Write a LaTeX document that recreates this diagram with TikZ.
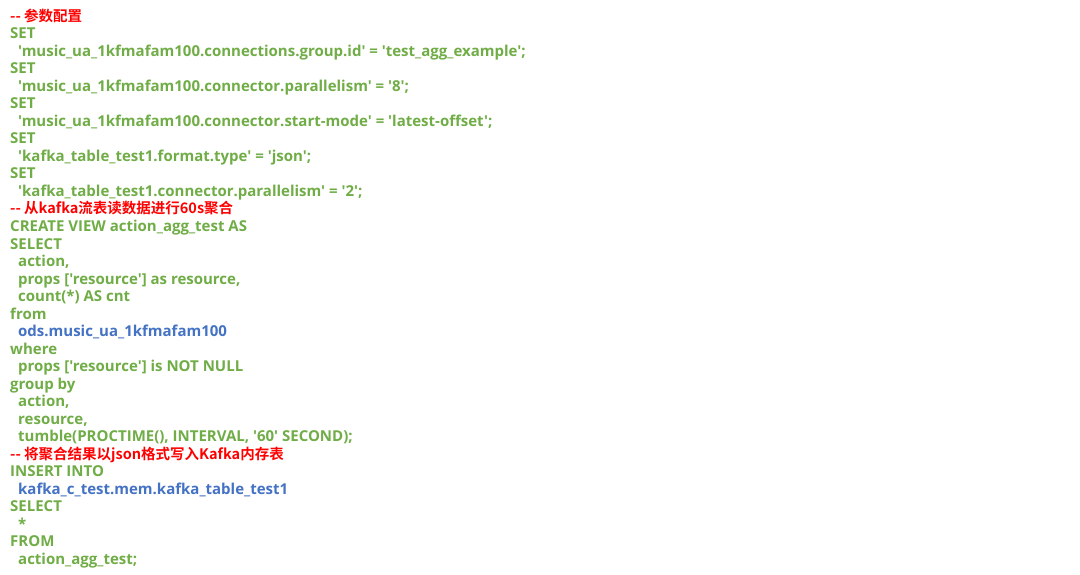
\documentclass[tikz,border=0pt]{standalone}
\usepackage{fontspec}
\usepackage{xcolor}
\newfontfamily\codefont{Open Sans}[BoldFont={Open Sans Bold}]
\newfontfamily\cjkfont{Noto Sans CJK SC}[BoldFont={Noto Sans CJK SC Bold}]
\definecolor{sqlgreen}{HTML}{70AD47}
\definecolor{sqlred}{HTML}{FF0000}
\definecolor{sqlblue}{HTML}{4472C4}
\tikzset{
  every code line/.style={inner sep=0pt,anchor=base west,font=\codefont\bfseries\fontsize{15}{17}\selectfont},
  kw/.style={every code line,text=sqlgreen},
  cmt/.style={every code line,text=sqlred,font=\cjkfont\bfseries\fontsize{14.5}{17}\selectfont},
  tbl/.style={every code line,text=sqlblue},
}

\begin{document}
\begin{tikzpicture}[x=1pt,y=1pt]
\useasboundingbox[fill=white] (0,0) rectangle (1080,-575);
\foreach[count=\k] \ind/\sty/\txt in {
  0/cmt/{-- 参数配置},
  0/kw/{SET},
  1/kw/{'music\_ua\_1kfmafam100.connections.group.id' = 'test\_agg\_example';},
  0/kw/{SET},
  1/kw/{'music\_ua\_1kfmafam100.connector.parallelism' = '8';},
  0/kw/{SET},
  1/kw/{'music\_ua\_1kfmafam100.connector.start-mode' = 'latest-offset';},
  0/kw/{SET},
  1/kw/{'kafka\_table\_test1.format.type' = 'json';},
  0/kw/{SET},
  1/kw/{'kafka\_table\_test1.connector.parallelism' = '2';},
  0/cmt/{-- 从kafka流表读数据进行60s聚合},
  0/kw/{CREATE VIEW action\_agg\_test AS},
  0/kw/{SELECT},
  1/kw/{action,},
  1/kw/{props ['resource'] as resource,},
  1/kw/{count(*) AS cnt},
  0/kw/{from},
  1/tbl/{ods.music\_ua\_1kfmafam100},
  0/kw/{where},
  1/kw/{props ['resource'] is NOT NULL},
  0/kw/{group by},
  1/kw/{action,},
  1/kw/{resource,},
  1/kw/{tumble(PROCTIME(), INTERVAL, '60' SECOND);},
  0/cmt/{-- 将聚合结果以json格式写入Kafka内存表},
  0/kw/{INSERT INTO},
  1/tbl/{kafka\_c\_test.mem.kafka\_table\_test1},
  0/kw/{SELECT},
  1/kw/{*},
  0/kw/{FROM},
  1/kw/{action\_agg\_test;}
}
{
  \node[\sty] (line\k) at (10+8*\ind, -21.5-17.5*\k+17.5) {\txt};
}
\end{tikzpicture}
\end{document}
